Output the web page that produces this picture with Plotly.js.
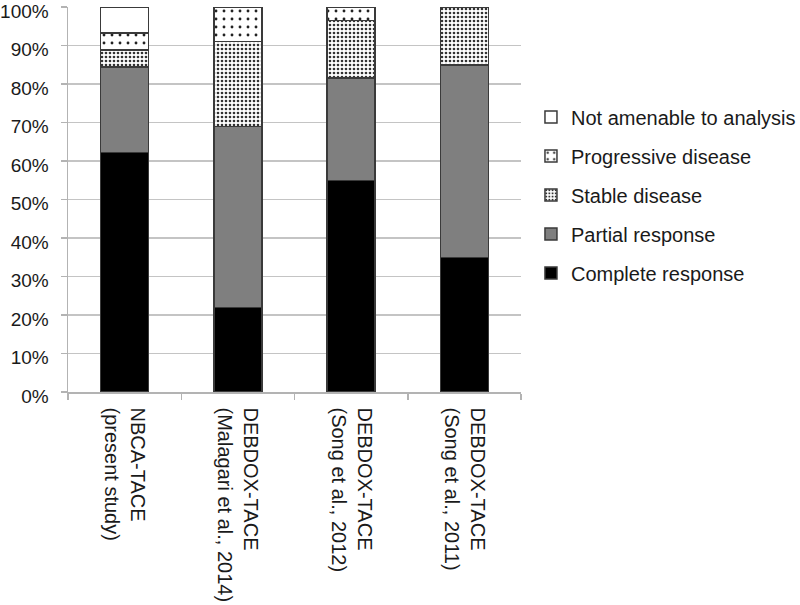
<!DOCTYPE html>
<html>
<head>
<meta charset="utf-8">
<script src="https://cdn.plot.ly/plotly-3.0.1.min.js"></script>
<style>html,body{margin:0;padding:0;background:#fff;}#chart{width:800px;height:605px;}</style>
</head>
<body>
<div id="chart"></div>
<script>
const categories = [
  "NBCA-TACE<br>(present study)",
  "DEBDOX-TACE<br>(Malagari et al., 2014)",
  "DEBDOX-TACE<br>(Song et al., 2012)",
  "DEBDOX-TACE<br>(Song et al., 2011)"
];
const completeResponse = [62.2, 22, 55, 35];
const partialResponse  = [22.2, 47, 26.5, 50];
const stableDisease    = [4.4, 22, 15, 15];
const progressiveDisease = [4.5, 9, 3.5, 0];
const notAmenable      = [6.7, 0, 0, 0];
const yTicks = [0,10,20,30,40,50,60,70,80,90,100];
const yTickLabels = yTicks.map(v => v + "%");

const outline = {color: "#3a3a3a", width: 1.5};
const common = {type: "bar", x: categories, hoverinfo: "y+name"};

const traces = [
  Object.assign({}, common, {name: "Complete response", y: completeResponse, legendgroup: "a", legendrank: 5,
    marker: {color: "#000000", line: outline}}),
  Object.assign({}, common, {name: "Partial response", y: partialResponse, legendgroup: "b", legendrank: 4,
    marker: {color: "#7f7f7f", line: outline}}),
  Object.assign({}, common, {name: "Stable disease", y: stableDisease, legendgroup: "c", legendrank: 3,
    marker: {color: "#ffffff", line: outline,
      pattern: {shape: ".", size: 4, solidity: 0.35, fgcolor: "#333333", bgcolor: "#ffffff", fillmode: "replace"}}}),
  Object.assign({}, common, {name: "Progressive disease", y: progressiveDisease, legendgroup: "d", legendrank: 2,
    marker: {color: "#ffffff", line: outline,
      pattern: {shape: ".", size: 8, solidity: 0.1, fgcolor: "#222222", bgcolor: "#ffffff", fillmode: "replace"}}}),
  Object.assign({}, common, {name: "Not amenable to analysis", y: notAmenable, legendgroup: "e", legendrank: 1,
    marker: {color: "#ffffff", line: outline}})
];

const layout = {
  width: 800, height: 605,
  margin: {l: 68, r: 279, t: 7, b: 213, autoexpand: false},
  paper_bgcolor: "#ffffff", plot_bgcolor: "#ffffff",
  barmode: "stack",
  bargap: 0.575,
  font: {family: "Liberation Sans, Arial, sans-serif", size: 20, color: "#1a1a1a"},
  showlegend: true,
  legend: {x: 1.022, xanchor: "left", y: 0.765, yanchor: "top",
    traceorder: "grouped", tracegroupgap: 10,
    font: {size: 20, color: "#1a1a1a"}, bgcolor: "rgba(0,0,0,0)"},
  xaxis: {
    tickangle: 90, tickson: "boundaries", ticks: "outside", ticklen: 6, tickcolor: "#b3b3b3", tickwidth: 1.5,
    showline: true, linecolor: "#b3b3b3", linewidth: 1.5, showgrid: false,
    ticklabelstandoff: 10,
    tickfont: {size: 20, color: "#1a1a1a"}, automargin: false
  },
  yaxis: {
    range: [0, 100], tickvals: yTicks, ticktext: yTickLabels,
    ticks: "outside", ticklen: 6, tickcolor: "#b3b3b3", tickwidth: 1.5,
    showline: true, linecolor: "#b3b3b3", linewidth: 1.5,
    showgrid: true, gridcolor: "#c4c4c4", gridwidth: 1.5, zeroline: false,
    ticklabelstandoff: 8, ticklabelshift: 4, ticklabeloverflow: "allow",
    tickfont: {size: 19, color: "#1a1a1a"}, automargin: false
  }
};

Plotly.newPlot("chart", traces, layout, {displayModeBar: false, staticPlot: true});
</script>
</body>
</html>
